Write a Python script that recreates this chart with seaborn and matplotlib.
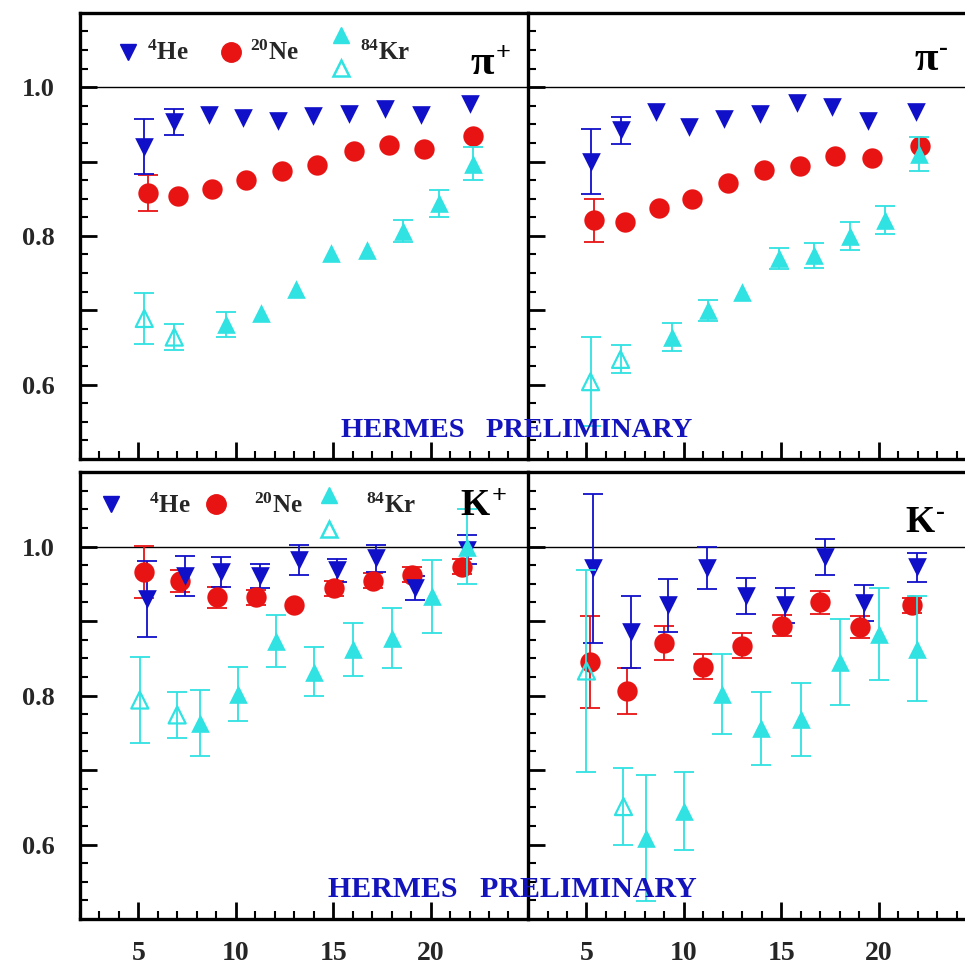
import matplotlib
matplotlib.use("Agg")
import matplotlib.pyplot as plt
import matplotlib.ticker as ticker
from matplotlib.legend_handler import HandlerBase
from matplotlib.lines import Line2D
import numpy as np
import seaborn as sns

# ── Colours ──────────────────────────────────────────────────────────────────
HE_COLOR = "#1010c8"
NE_COLOR = "#e81414"
KR_COLOR = "#30e2e2"
TXT_BLUE = "#1414bc"

# ── Data: pi+  (error 0 = hidden behind the marker) ──────────────────────────
PIP_HE_X = [5.30, 6.84, 8.63, 10.39, 12.19, 13.98, 15.82, 17.66, 19.51, 22.00]
PIP_HE_Y = [0.920, 0.953, 0.962, 0.959, 0.955, 0.961, 0.964, 0.971, 0.962, 0.978]
PIP_HE_E = [0.037, 0.017, 0, 0, 0, 0, 0, 0, 0, 0]
PIP_NE_X = [5.48, 7.05, 8.76, 10.53, 12.36, 14.16, 16.07, 17.87, 19.68, 22.17]
PIP_NE_Y = [0.858, 0.853, 0.863, 0.875, 0.887, 0.895, 0.914, 0.922, 0.917, 0.934]
PIP_NE_E = [0.024, 0, 0, 0, 0, 0, 0, 0, 0, 0]
PIP_KR_X = [5.30, 6.84, 9.48, 11.30, 13.08, 14.89, 16.72, 18.61, 20.42, 22.17]
PIP_KR_Y = [0.689, 0.664, 0.681, 0.697, 0.728, 0.777, 0.781, 0.807, 0.844, 0.897]
PIP_KR_E = [0.034, 0.017, 0.017, 0, 0, 0, 0, 0.015, 0.018, 0.022]

# ── Data: pi- ────────────────────────────────────────────────────────────────
PIM_HE_X = [5.21, 6.79, 8.56, 10.27, 12.08, 13.92, 15.81, 17.61, 19.45, 21.91]
PIM_HE_Y = [0.900, 0.942, 0.966, 0.946, 0.957, 0.964, 0.979, 0.973, 0.955, 0.966]
PIM_HE_E = [0.044, 0.018, 0, 0, 0, 0, 0, 0, 0, 0]
PIM_NE_X = [5.38, 6.96, 8.71, 10.43, 12.28, 14.14, 15.98, 17.78, 19.64, 22.13]
PIM_NE_Y = [0.821, 0.819, 0.838, 0.849, 0.871, 0.889, 0.894, 0.907, 0.905, 0.921]
PIM_NE_E = [0.029, 0, 0, 0, 0, 0, 0, 0, 0, 0]
PIM_KR_X = [5.21, 6.75, 9.40, 11.25, 13.00, 14.86, 16.70, 18.52, 20.33, 22.08]
PIM_KR_Y = [0.604, 0.634, 0.664, 0.700, 0.725, 0.770, 0.774, 0.800, 0.821, 0.910]
PIM_KR_E = [0.060, 0.019, 0.019, 0.014, 0, 0.014, 0.017, 0.019, 0.019, 0.023]

# ── Data: K+ ─────────────────────────────────────────────────────────────────
KP_HE_X = [5.45, 7.38, 9.26, 11.23, 13.23, 15.21, 17.21, 19.19, 21.88]
KP_HE_Y = [0.930, 0.961, 0.966, 0.960, 0.982, 0.968, 0.984, 0.944, 0.996]
KP_HE_E = [0.051, 0.027, 0.020, 0.016, 0.020, 0.015, 0.018, 0.016, 0.020]
KP_NE_X = [5.27, 7.16, 9.04, 11.06, 13.01, 15.03, 17.03, 19.06, 21.63]
KP_NE_Y = [0.966, 0.954, 0.932, 0.932, 0.922, 0.944, 0.954, 0.962, 0.973]
KP_NE_E = [0.035, 0.015, 0.014, 0.010, 0, 0.010, 0.010, 0.010, 0.010]
KP_KR_X = [5.07, 6.99, 8.18, 10.10, 12.05, 14.00, 16.00, 18.00, 20.05, 21.88]
KP_KR_Y = [0.794, 0.774, 0.763, 0.802, 0.873, 0.832, 0.862, 0.877, 0.933, 1.000]
KP_KR_E = [0.058, 0.031, 0.044, 0.036, 0.035, 0.033, 0.036, 0.040, 0.049, 0.050]

# ── Data: K- ─────────────────────────────────────────────────────────────────
KM_HE_X = [5.34, 7.28, 9.17, 11.17, 13.19, 15.17, 17.24, 19.26, 21.95]
KM_HE_Y = [0.971, 0.885, 0.921, 0.971, 0.934, 0.921, 0.986, 0.924, 0.972]
KM_HE_E = [0.100, 0.048, 0.035, 0.028, 0.024, 0.023, 0.024, 0.024, 0.019]
KM_NE_X = [5.17, 7.10, 8.96, 11.00, 12.98, 15.04, 16.98, 19.02, 21.73]
KM_NE_Y = [0.845, 0.806, 0.871, 0.839, 0.867, 0.894, 0.925, 0.892, 0.921]
KM_NE_E = [0.062, 0.031, 0.023, 0.017, 0.017, 0.014, 0.016, 0.015, 0.010]
KM_KR_X = [5.00, 6.90, 8.07, 10.00, 11.98, 13.97, 16.00, 18.02, 20.00, 21.95]
KM_KR_Y = [0.833, 0.651, 0.609, 0.645, 0.802, 0.756, 0.768, 0.845, 0.883, 0.863]
KM_KR_E = [0.136, 0.052, 0.085, 0.052, 0.054, 0.049, 0.049, 0.058, 0.062, 0.070]

N_OPEN = 2   # first Kr points are drawn as open triangles

X_LIM = (2, 25)
Y_LIM = (0.5, 1.1)
Y_LABELED = [0.6, 0.8, 1.0]
X_LABELED = [5, 10, 15, 20]

LEGEND_LABELS = [r"$^{4}$He", r"$^{20}$Ne", r"$^{84}$Kr"]

# ── Theme ────────────────────────────────────────────────────────────────────
sns.set_theme(style="ticks")
plt.rcParams["font.family"] = ["Liberation Serif", "DejaVu Serif"]
plt.rcParams["font.weight"] = "bold"
plt.rcParams["mathtext.fontset"] = "custom"
plt.rcParams["mathtext.rm"] = "Liberation Serif:bold"
plt.rcParams["mathtext.default"] = "rm"


class StackedKr(HandlerBase):
    """Filled triangle above an open one, as in the original key."""
    def __init__(self, up, down):
        super().__init__()
        self.up, self.down = up, down

    def create_artists(self, legend, orig_handle, xdescent, ydescent,
                       width, height, fontsize, trans):
        cx = 0.5 * width - xdescent
        cy = 0.5 * height - ydescent
        top = Line2D([cx], [cy + self.up], marker="^", ms=12, color=KR_COLOR,
                     mec=KR_COLOR, ls="none")
        low = Line2D([cx], [cy - self.down], marker="^", ms=11, mfc="none",
                     mec=KR_COLOR, mew=1.8, ls="none")
        top.set_transform(trans)
        low.set_transform(trans)
        return [top, low]


def errbars(ax, x, y, e, col, z):
    x, y, e = np.asarray(x), np.asarray(y), np.asarray(e)
    keep = e > 0
    ax.errorbar(x[keep], y[keep], yerr=e[keep], fmt="none", ecolor=col,
                elinewidth=1.3, capsize=7, capthick=1.3, zorder=z)


def draw_panel(ax, he, ne, kr):
    ax.axhline(1.0, color="black", lw=1.0, zorder=1)

    for (x, y, e), col, mk, s in [(ne, NE_COLOR, "o", 215), (he, HE_COLOR, "v", 180)]:
        errbars(ax, x, y, e, col, 2)
        sns.scatterplot(x=x, y=y, ax=ax, marker=mk, s=s, color=col,
                        edgecolor=col, linewidth=0, zorder=3, legend=False)

    x, y, e = kr
    errbars(ax, x, y, e, KR_COLOR, 4)
    sns.scatterplot(x=x[N_OPEN:], y=y[N_OPEN:], ax=ax, marker="^", s=180,
                    color=KR_COLOR, edgecolor=KR_COLOR, linewidth=0,
                    zorder=5, legend=False)
    sns.scatterplot(x=x[:N_OPEN], y=y[:N_OPEN], ax=ax, marker="^", s=150,
                    facecolor="none", edgecolor=KR_COLOR, linewidth=1.6,
                    zorder=5, legend=False)

    ax.set_xlim(*X_LIM)
    ax.set_ylim(*Y_LIM)
    ax.xaxis.set_major_locator(ticker.MultipleLocator(5))
    ax.xaxis.set_minor_locator(ticker.MultipleLocator(1))
    ax.yaxis.set_major_locator(ticker.MultipleLocator(0.1))
    ax.yaxis.set_minor_locator(ticker.MultipleLocator(0.025))
    ax.tick_params(which="major", direction="in", length=12, width=2,
                   color="black", top=False, right=False)
    ax.tick_params(which="minor", direction="in", length=6, width=1.5,
                   color="black", top=False, right=False)
    ax.tick_params(axis="y", pad=18, labelsize=19)
    ax.tick_params(axis="x", pad=16, labelsize=20)
    ax.set_xlabel("")
    ax.set_ylabel("")
    for side in ["left", "top", "bottom"]:
        ax.spines[side].set_linewidth(2.4)
        ax.spines[side].set_color("black")
    ax.spines["right"].set_visible(False)


def panel_tag(ax, main, sup, x, y, size):
    t = ax.text(x, y, main, transform=ax.transAxes, ha="right", va="center",
                fontsize=size, fontweight="bold", color="black", zorder=6)
    ax.annotate(sup, xy=(1, 1), xycoords=t, xytext=(1, -6),
                textcoords="offset points", ha="left", va="center",
                fontsize=19, fontweight="bold", color="black")


def add_key(ax, anchor, textpad, colspace, up, down):
    handles = [
        Line2D([], [], marker="v", ms=11, color=HE_COLOR, ls="none"),
        Line2D([], [], marker="o", ms=14, color=NE_COLOR, ls="none"),
        Line2D([], [], marker="^", ms=12, color=KR_COLOR, ls="none"),
    ]
    leg = ax.legend(handles, LEGEND_LABELS, ncol=3, loc="upper left",
                    bbox_to_anchor=anchor, frameon=False, fontsize=18,
                    handlelength=1.0, handletextpad=textpad,
                    columnspacing=colspace, borderaxespad=0,
                    handler_map={handles[2]: StackedKr(up, down)})
    leg.set_zorder(7)


fig = plt.figure(figsize=(9.65, 9.67), dpi=100)
W, H = 0.4642, 0.4615
ax_pip = fig.add_axes([0.0829, 0.5253, W, H])
ax_pim = fig.add_axes([0.5472, 0.5253, W, H])
ax_kp = fig.add_axes([0.0829, 0.0496, W, 0.4622])
ax_km = fig.add_axes([0.5472, 0.0496, W, 0.4622])

draw_panel(ax_pip, (PIP_HE_X, PIP_HE_Y, PIP_HE_E), (PIP_NE_X, PIP_NE_Y, PIP_NE_E),
           (PIP_KR_X, PIP_KR_Y, PIP_KR_E))
draw_panel(ax_pim, (PIM_HE_X, PIM_HE_Y, PIM_HE_E), (PIM_NE_X, PIM_NE_Y, PIM_NE_E),
           (PIM_KR_X, PIM_KR_Y, PIM_KR_E))
draw_panel(ax_kp, (KP_HE_X, KP_HE_Y, KP_HE_E), (KP_NE_X, KP_NE_Y, KP_NE_E),
           (KP_KR_X, KP_KR_Y, KP_KR_E))
draw_panel(ax_km, (KM_HE_X, KM_HE_Y, KM_HE_E), (KM_NE_X, KM_NE_Y, KM_NE_E),
           (KM_KR_X, KM_KR_Y, KM_KR_E))

y_fmt = ticker.FuncFormatter(
    lambda v, p: f"{v:.1f}" if any(abs(v - t) < 1e-6 for t in Y_LABELED) else "")
x_fmt = ticker.FuncFormatter(
    lambda v, p: f"{v:.0f}" if any(abs(v - t) < 1e-6 for t in X_LABELED) else "")
for ax in [ax_pip, ax_kp]:
    ax.yaxis.set_major_formatter(y_fmt)
for ax in [ax_pim, ax_km]:
    ax.yaxis.set_major_formatter(ticker.NullFormatter())
for ax in [ax_pip, ax_pim]:
    ax.xaxis.set_major_formatter(ticker.NullFormatter())
for ax in [ax_kp, ax_km]:
    ax.xaxis.set_major_formatter(x_fmt)

# ── Keys and tags ────────────────────────────────────────────────────────────
add_key(ax_pip, (0.057, 0.959), 0.25, 1.2, 12, 12)
add_key(ax_kp, (0.02, 0.975), 1.0, 0.54, 6.5, 18)

panel_tag(ax_pip, "π", "+", 0.925, 0.885, 31)
panel_tag(ax_pim, "π", "-", 0.915, 0.895, 31)
panel_tag(ax_kp, "K", "+", 0.915, 0.925, 27)
panel_tag(ax_km, "K", "-", 0.908, 0.888, 27)

fig.text(0.535, 0.555, "HERMES   PRELIMINARY", ha="center", va="center",
         fontsize=20.5, fontweight="bold", color=TXT_BLUE, zorder=10)
fig.text(0.531, 0.080, "HERMES   PRELIMINARY", ha="center", va="center",
         fontsize=21.5, fontweight="bold", color=TXT_BLUE, zorder=10)

fig.savefig("out.png", dpi=100, facecolor="white")
plt.close(fig)
